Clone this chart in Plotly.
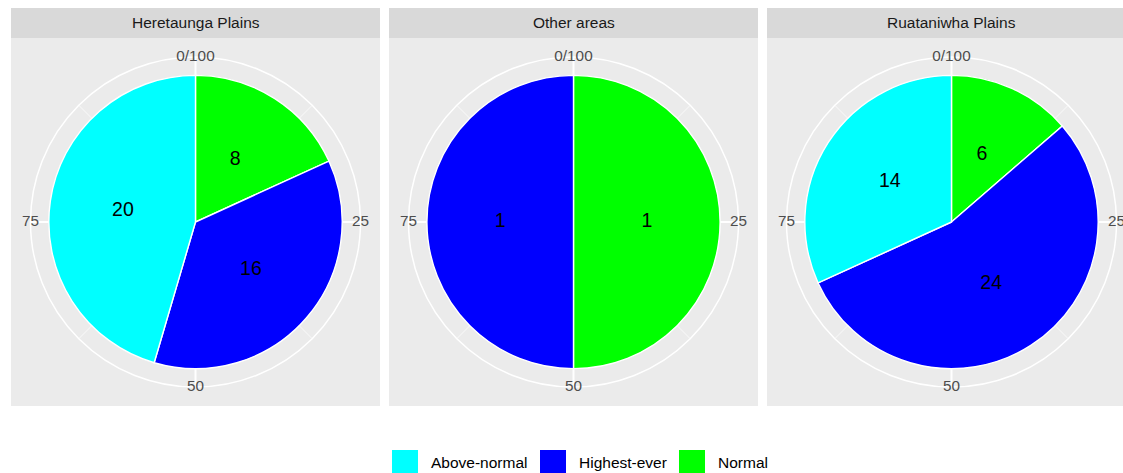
import plotly.graph_objects as go

# ---------------- data ----------------
regions = ["Heretaunga Plains", "Other areas", "Ruataniwha Plains"]
categories = ["Above-normal", "Highest-ever", "Normal"]
above_normal = [20, 0, 14]
highest_ever = [16, 1, 24]
normal = [8, 1, 6]
stack_order = ["Normal", "Highest-ever", "Above-normal"]  # clockwise from top
colors = {"Above-normal": "#00FFFF", "Highest-ever": "#0000FF", "Normal": "#00FF00"}
theta_ticks = [0, 25, 50, 75]
theta_ticktext = ["0/100", "25", "50", "75"]
theta_minor = [12.5, 37.5, 62.5, 87.5]

values = {"Above-normal": above_normal, "Highest-ever": highest_ever, "Normal": normal}

# ---------------- layout geometry (pixels) ----------------
W, H = 1123, 473
panel_left = [11, 389, 767]
panel_w = 369
panel_top, panel_bot = 38, 406
strip_top = 8
cy = 222
R_outer = 165  # grid circle radius in px
R_MAX = 1.125  # radial range (pie radius = 1)

def px(x):
    return x / W

def py(y):
    return 1 - y / H

fig = go.Figure()
shapes = []
annotations = []

P2D = 3.6  # percent -> degrees

for i, reg in enumerate(regions):
    pname = "polar" if i == 0 else f"polar{i+1}"
    sub = "polar" if i == 0 else f"polar{i+1}"
    x0 = panel_left[i]
    cx = x0 + panel_w / 2
    # panel background + strip
    shapes.append(dict(type="rect", xref="paper", yref="paper", x0=px(x0), x1=px(x0 + panel_w),
                       y0=py(panel_bot), y1=py(panel_top), fillcolor="#EBEBEB", line_width=0, layer="below"))
    shapes.append(dict(type="rect", xref="paper", yref="paper", x0=px(x0), x1=px(x0 + panel_w),
                       y0=py(panel_top), y1=py(strip_top), fillcolor="#D9D9D9", line_width=0, layer="below"))
    annotations.append(dict(text=reg, xref="paper", yref="paper", x=px(cx), y=py((strip_top + panel_top) / 2),
                            showarrow=False, xanchor="center", yanchor="middle",
                            font=dict(size=15.5, color="#1A1A1A")))

    total = sum(values[c][i] for c in categories)
    cum = 0.0
    for cat in stack_order:
        v = values[cat][i]
        if v == 0:
            continue
        pct = v / total * 100
        mid = cum + pct / 2
        fig.add_trace(go.Barpolar(r=[1], theta=[mid * P2D], width=[pct * P2D], base=0,
                                  marker=dict(color=colors[cat], line=dict(color="white", width=1.4)),
                                  name=cat, showlegend=False, subplot=sub, hoverinfo="skip"))
        fig.add_trace(go.Scatterpolar(r=[0.5], theta=[mid * P2D], mode="text", text=[str(v)],
                                      textfont=dict(size=19.5, color="black"),
                                      showlegend=False, subplot=sub, cliponaxis=False, hoverinfo="skip"))
        cum += pct

    # minor grid segments (visible part between pie edge and circle)
    for m in theta_minor:
        fig.add_trace(go.Scatterpolar(r=[1, R_MAX], theta=[m * P2D] * 2, mode="lines",
                                      line=dict(color="white", width=0.7), showlegend=False,
                                      subplot=sub, hoverinfo="skip"))
    # theta labels sitting on the circle
    fig.add_trace(go.Scatterpolar(r=[R_MAX] * len(theta_ticks), theta=[t * P2D for t in theta_ticks],
                                  mode="text", text=theta_ticktext,
                                  textfont=dict(size=15.3, color="#4D4D4D"),
                                  showlegend=False, subplot=sub, cliponaxis=False, hoverinfo="skip"))

    fig.update_layout(**{pname: dict(
        domain=dict(x=[px(cx - R_outer), px(cx + R_outer)], y=[py(cy + R_outer), py(cy - R_outer)]),
        bgcolor="rgba(0,0,0,0)",
        radialaxis=dict(visible=False, range=[0, R_MAX], showgrid=False),
        angularaxis=dict(rotation=90, direction="clockwise", showline=True, linecolor="white",
                         linewidth=1.5, showgrid=True, gridcolor="white", gridwidth=1.5,
                         tickmode="array", tickvals=[t * P2D for t in theta_ticks],
                         showticklabels=False, ticks="", layer="below traces"),
        barmode="overlay",
    )})

# ---------------- manual legend (ggplot-style) ----------------
leg_key_x = [392, 540, 679]
key_w, key_h = 26, 23
leg_y0 = 450
for cat, kx in zip(categories, leg_key_x):
    shapes.append(dict(type="rect", xref="paper", yref="paper", x0=px(kx), x1=px(kx + key_w),
                       y0=py(leg_y0 + key_h), y1=py(leg_y0), fillcolor=colors[cat], line_width=0))
    annotations.append(dict(text=cat, xref="paper", yref="paper", x=px(kx + key_w + 11), y=py(462),
                            showarrow=False, xanchor="left", yanchor="middle",
                            font=dict(size=15.5, color="#000000")))

fig.update_layout(
    width=W, height=H,
    margin=dict(l=0, r=0, t=0, b=0),
    paper_bgcolor="white",
    plot_bgcolor="white",
    font=dict(family="Liberation Sans, Arial, sans-serif"),
    shapes=shapes,
    annotations=annotations,
    showlegend=False,
)

fig.write_html("out.html",
               config={"displayModeBar": False},
               post_script="document.body.style.margin='0';document.body.style.padding='0';"
                           "document.documentElement.style.overflow='hidden';")
